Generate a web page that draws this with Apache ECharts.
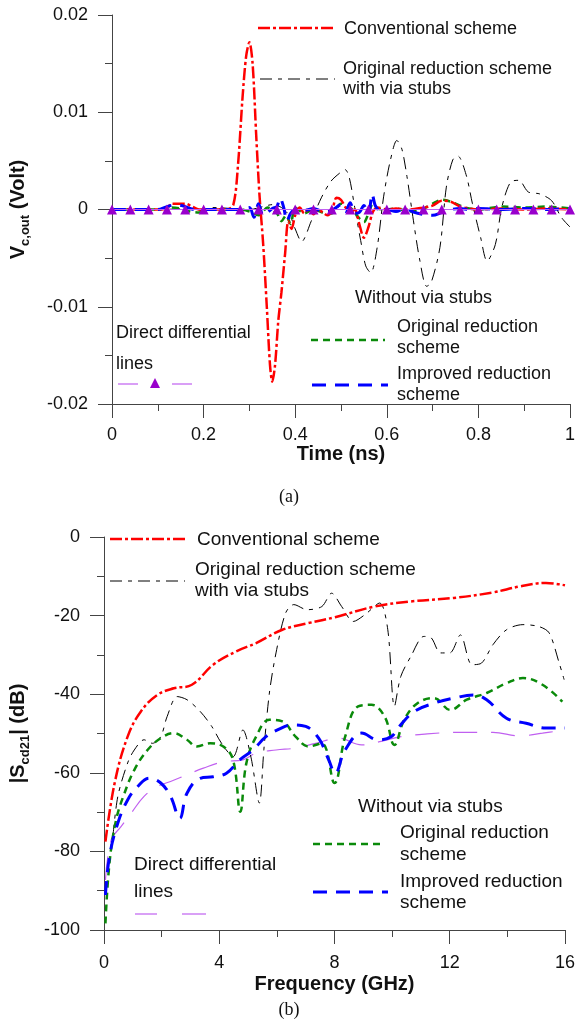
<!DOCTYPE html>
<html>
<head>
<meta charset="utf-8">
<script src="https://cdn.jsdelivr.net/npm/echarts@6/dist/echarts.min.js"></script>
<style>
html,body{margin:0;padding:0;background:#fff;}
#chart{width:578px;height:1027px;}
</style>
</head>
<body>
<div id="chart"></div>
<script>
// ---------- (a) time domain ----------
var timeTicks = [0, 0.2, 0.4, 0.6, 0.8, 1];
var convT = [0,0.05,0.10,0.12,0.13,0.16,0.175,0.19,0.25,0.265,0.275,0.285,0.293,0.300,0.307,0.315,0.322,0.330,0.338,0.345,0.350,0.356,0.363,0.370,0.378,0.385,0.392,0.40,0.41,0.42,0.43,0.44,0.45,0.46,0.47,0.48,0.49,0.50,0.51,0.52,0.53,0.54,0.55,0.56,0.57,0.58,0.60,0.62,0.65,0.68,0.70,0.72,0.74,0.76,0.78,0.80,0.85,0.90,0.95,1.0];
var convV = [0,0,0,0.0001,0.0006,0.0006,0.0003,0,0,0.0005,0.0045,0.0115,0.0158,0.0172,0.0150,0.0075,0.0015,-0.0035,-0.0100,-0.0160,-0.0177,-0.0160,-0.0115,-0.0085,-0.0045,-0.0012,-0.0020,-0.0006,0.0002,-0.0004,0.0001,-0.0005,0.0000,-0.0003,-0.0006,-0.0002,0.0012,0.0010,0.0002,-0.0003,0.0000,-0.0015,-0.0029,-0.0018,-0.0002,0.0002,0.0000,0.0001,0.0000,0.0002,0.0004,0.0009,0.0008,0.0003,0.0001,0.0000,0.0001,0.0000,0.0001,0.0000];
var stubT = [0,0.1,0.18,0.2,0.22,0.3,0.33,0.35,0.37,0.39,0.40,0.414,0.435,0.457,0.478,0.496,0.509,0.518,0.53,0.543,0.554,0.565,0.579,0.593,0.608,0.622,0.633,0.644,0.658,0.672,0.687,0.697,0.716,0.73,0.744,0.755,0.773,0.787,0.805,0.819,0.837,0.851,0.87,0.888,0.909,0.934,0.96,0.981,1.0];
var stubV = [0,0,0.0001,-0.0002,0.0002,0,0.0003,0.0005,0.0002,-0.0008,-0.0020,-0.0033,-0.0012,0.0012,0.0029,0.0037,0.0041,0.0033,0.0002,-0.0032,-0.0058,-0.0065,-0.0039,0.0013,0.0051,0.0071,0.0062,0.0034,-0.0011,-0.0052,-0.0079,-0.0075,-0.0039,0.0023,0.0051,0.0055,0.0036,0.0006,-0.0029,-0.0053,-0.0036,0.0002,0.0028,0.0030,0.0018,0.0016,0.0009,-0.0008,-0.0018];
var origT = [0,0.1,0.13,0.15,0.17,0.19,0.21,0.25,0.28,0.30,0.32,0.34,0.36,0.37,0.38,0.39,0.40,0.42,0.44,0.46,0.48,0.50,0.52,0.54,0.55,0.56,0.57,0.58,0.60,0.62,0.65,0.68,0.70,0.72,0.74,0.76,0.78,0.80,0.85,0.90,0.95,1.0];
var origV = [0,0,0.0002,0.0001,-0.0002,-0.0003,0,0,0,-0.0002,-0.0006,0.0002,-0.0004,-0.0012,-0.0006,-0.0015,0.0002,-0.0004,0.0000,-0.0003,-0.0004,0.0006,0.0002,-0.0009,-0.0013,-0.0004,0.0006,0.0001,0.0000,0.0001,-0.0002,0.0001,0.0006,0.0010,0.0008,0.0004,0.0001,0.0000,0.0003,0.0002,0.0003,0.0001];
var imprT = [0,0.1,0.12,0.14,0.16,0.18,0.20,0.25,0.28,0.30,0.31,0.32,0.33,0.34,0.35,0.36,0.367,0.375,0.382,0.39,0.40,0.42,0.44,0.46,0.48,0.50,0.51,0.52,0.53,0.54,0.55,0.56,0.568,0.575,0.585,0.60,0.62,0.64,0.66,0.68,0.70,0.72,0.74,0.76,0.78,0.80,0.85,0.90,0.95,1.0];
var imprV = [0,0,0.0003,0.0005,0.0003,0.0000,0,0,0,0.0002,-0.0008,0.0006,-0.0006,-0.0003,0.0001,0.0003,0.0012,0.0002,-0.0012,-0.0004,0.0000,-0.0001,0.0001,-0.0002,-0.0001,0.0005,-0.0002,0.0007,-0.0004,-0.0003,0.0004,-0.0005,0.0016,0.0004,-0.0001,0.0000,-0.0002,0.0001,-0.0003,-0.0005,-0.0006,-0.0003,0.0000,0.0001,0.0000,0.0001,0.0000,0.0001,0.0000,0.0001];
var directT = [0,0.04,0.08,0.12,0.16,0.20,0.24,0.28,0.32,0.36,0.40,0.44,0.48,0.52,0.56,0.60,0.64,0.68,0.72,0.76,0.80,0.84,0.88,0.92,0.96,1.00];
var directV = [0,0,0,0,0,0,0,0,0,0,0,0,0,0,0,0,0,0,0,0,0,0,0,0,0,0];

// ---------- (b) frequency domain ----------
var freqTicks = [0, 4, 8, 12, 16];
var convF = [0.05,0.37,0.82,1.28,1.85,2.42,3.05,3.79,4.59,5.28,6.19,7.1,8.02,9.39,10.65,12.14,13.5,14.42,15.34,16.0];
var convS = [-77.5,-62.6,-50.8,-44.4,-40.2,-38.5,-37.6,-32.5,-29.1,-27.0,-23.6,-21.9,-20.4,-17.7,-16.4,-15.5,-14.1,-12.6,-11.7,-12.3];
var stubF = [0.31,0.48,0.82,1.05,1.39,1.68,1.97,2.19,2.54,2.88,3.34,3.74,4.08,4.48,4.82,5.1,5.39,5.55,5.74,5.97,6.3,6.59,7.05,7.56,7.9,8.25,8.65,9.05,9.57,9.85,10.08,10.3,10.65,11.1,11.35,11.68,12.0,12.37,12.77,13.1,13.5,13.97,14.54,15.1,15.45,15.8,15.97];
var stubS = [-76.2,-66,-57.5,-54.2,-51.6,-52.5,-50.8,-45.7,-40.6,-41.4,-44.4,-48.2,-52.5,-55.9,-49.1,-56,-67.7,-54,-39.7,-29.5,-19.4,-17.2,-18.5,-17.7,-14.3,-17.7,-21.5,-19.8,-16.8,-23.6,-43.1,-35.5,-30.4,-25.3,-25.6,-29.5,-29.5,-24.9,-32.5,-32.1,-27.4,-23.6,-22.3,-22.8,-24.4,-32.1,-36.3];
var origF = [0.05,0.19,0.42,0.71,1.05,1.51,1.97,2.42,2.88,3.22,3.68,4.14,4.48,4.73,4.94,5.28,5.74,6.19,6.65,7.1,7.56,8.0,8.37,8.82,9.28,9.74,10.08,10.42,10.88,11.45,12.02,12.59,13.28,13.97,14.54,15.22,15.91];
var origS = [-98.3,-83,-72,-65.2,-59.3,-54.2,-51.2,-49.9,-51.6,-53.3,-52.5,-53.3,-56.7,-69.9,-57.6,-50.8,-46.5,-46.9,-50.8,-53.3,-52.5,-62.6,-50.8,-43.1,-42.7,-45.7,-52.9,-46.5,-42.3,-41,-44,-41.4,-39.7,-37.2,-35.9,-37.6,-41.9];
var imprF = [0.05,0.19,0.48,0.82,1.17,1.57,1.97,2.31,2.63,2.88,3.34,3.79,4.25,4.71,5.17,5.62,6.02,6.54,7.0,7.45,7.8,8.02,8.37,8.94,9.51,9.97,10.25,10.77,11.45,12.14,12.82,13.28,13.97,14.65,15.34,16.0];
var imprS = [-91.1,-81.3,-72.8,-66.9,-63.5,-61.4,-62.6,-66,-71.6,-65.2,-61.4,-61,-60.1,-56.7,-54.2,-50.8,-49.1,-47.8,-48.2,-51.2,-56.7,-60.1,-54.2,-49.9,-51.6,-50.8,-48.2,-44.4,-42.3,-41,-40.2,-41.4,-46.1,-47.4,-48.6,-48.6];
var directF = [0.05,0.25,0.59,0.94,1.39,1.85,2.31,2.88,3.45,4.14,4.82,5.28,5.97,6.65,7.34,8.14,8.94,9.62,10.31,11.22,12.37,13.5,14.42,15.22,16.0];
var directS = [-87.3,-77.1,-73.7,-70.3,-66,-63.5,-62.2,-60.5,-58.8,-57.2,-56.7,-55,-54.2,-53.7,-52.5,-51.2,-52.9,-52,-50.8,-50.1,-49.7,-49.7,-50.6,-49.9,-49.1];

function zip(a, b) { return a.map(function (v, i) { return [v, b[i]]; }); }

var FONT = 'Liberation Sans, Arial, sans-serif';
var AX = '#444';
var RED = '#ff0000', BLACK = '#000000', GREEN = '#0a8a0a', BLUE = '#0000ff', PURPLE_L = '#c060f0', PURPLE_D = '#9900cc';
var sRed = { color: RED, width: 2.5, type: [12, 3, 3, 3] };
var sBlack = { color: BLACK, width: 1, type: [12, 6, 4, 6] };
var sGreen = { color: GREEN, width: 2.5, type: [7, 5] };
var sBlue = { color: BLUE, width: 3, type: [14, 9] };
var sPurpleA = { color: PURPLE_L, width: 1.2, type: 'solid' };
var sPurpleB = { color: PURPLE_L, width: 1.2, type: [24, 14] };

function axisCommon(extra) {
  var o = {
    axisLine: { show: true, onZero: false, lineStyle: { color: AX, width: 1 } },
    axisTick: { show: true, length: 14, lineStyle: { color: AX } },
    minorTick: { show: true, splitNumber: 2, length: 7, lineStyle: { color: AX } },
    splitLine: { show: false },
    axisLabel: { color: '#111', fontSize: 18, fontFamily: FONT },
    nameTextStyle: { color: '#111', fontSize: 20, fontWeight: 'bold', fontFamily: FONT }
  };
  for (var k in extra) o[k] = extra[k];
  return o;
}

function line(x1, y1, x2, y2, st) {
  return { type: 'line', shape: { x1: x1, y1: y1, x2: x2, y2: y2 },
    style: { stroke: st.color, lineWidth: st.width, lineDash: st.type === 'solid' ? null : st.type }, z: 100 };
}
function txt(x, y, s, size) {
  return { type: 'text', x: x, y: y, style: { text: s, fill: '#111', font: (size || 18) + 'px ' + FONT, verticalAlign: 'middle', align: 'left' }, z: 100 };
}
function caption(x, y, s) {
  return { type: 'text', x: x, y: y, style: { text: s, fill: '#111', font: '18px Liberation Serif, Times New Roman, serif', verticalAlign: 'middle', align: 'center' }, z: 100 };
}

var richName = {
  b: { fontSize: 20, fontWeight: 'bold', fontFamily: FONT, color: '#111', lineHeight: 28 },
  s: { fontSize: 13, fontWeight: 'bold', fontFamily: FONT, color: '#111', lineHeight: 14, verticalAlign: 'bottom' }
};

var option = {
  backgroundColor: '#fff',
  animation: false,
  grid: [
    { left: 108, top: 15, width: 464, height: 389 },
    { left: 101, top: 537, width: 469, height: 393 }
  ],
  xAxis: [
    axisCommon({ gridIndex: 0, type: 'value', min: 0, max: 1, interval: 0.2,
      name: 'Time (ns)', nameLocation: 'middle', nameGap: 38,
      axisLabel: { color: '#111', fontSize: 18, fontFamily: FONT, margin: 22 } }),
    axisCommon({ gridIndex: 1, type: 'value', min: 0, max: 16, interval: 4,
      name: 'Frequency (GHz)', nameLocation: 'middle', nameGap: 44,
      axisLabel: { color: '#111', fontSize: 18, fontFamily: FONT, margin: 24 } })
  ],
  yAxis: [
    axisCommon({ gridIndex: 0, type: 'value', min: -0.02, max: 0.02, interval: 0.01,
      name: '{b|V}{s|c,out}{b| (Volt)}', nameLocation: 'middle', nameGap: 80, nameRotate: 90,
      nameTextStyle: { rich: richName },
      axisLabel: { color: '#111', fontSize: 18, fontFamily: FONT, margin: 24 } }),
    axisCommon({ gridIndex: 1, type: 'value', min: -100, max: 0, interval: 20,
      name: '{b||S}{s|cd21}{b|| (dB)}', nameLocation: 'middle', nameGap: 72, nameRotate: 90,
      nameTextStyle: { rich: richName },
      axisLabel: { color: '#111', fontSize: 18, fontFamily: FONT, margin: 24 } })
  ],
  series: [
    { type: 'line', xAxisIndex: 0, yAxisIndex: 0, data: zip(stubT, stubV), showSymbol: false, smooth: 0.3, lineStyle: sBlack, z: 2 },
    { type: 'line', xAxisIndex: 0, yAxisIndex: 0, data: zip(origT, origV), showSymbol: false, smooth: 0.3, lineStyle: sGreen, z: 3 },
    { type: 'line', xAxisIndex: 0, yAxisIndex: 0, data: zip(convT, convV), showSymbol: false, smooth: 0.3, lineStyle: sRed, z: 4 },
    { type: 'line', xAxisIndex: 0, yAxisIndex: 0, data: zip(imprT, imprV), showSymbol: false, smooth: 0.3, lineStyle: sBlue, z: 5 },
    { type: 'line', xAxisIndex: 0, yAxisIndex: 0, data: zip(directT, directV), showSymbol: true, symbol: 'triangle', symbolSize: 10,
      itemStyle: { color: PURPLE_D }, lineStyle: sPurpleA, z: 6 },

    { type: 'line', xAxisIndex: 1, yAxisIndex: 1, data: zip(directF, directS), showSymbol: false, smooth: 0.4, lineStyle: sPurpleB, z: 2 },
    { type: 'line', xAxisIndex: 1, yAxisIndex: 1, data: zip(stubF, stubS), showSymbol: false, smooth: 0.3, lineStyle: sBlack, z: 3 },
    { type: 'line', xAxisIndex: 1, yAxisIndex: 1, data: zip(origF, origS), showSymbol: false, smooth: 0.4, lineStyle: sGreen, z: 4 },
    { type: 'line', xAxisIndex: 1, yAxisIndex: 1, data: zip(imprF, imprS), showSymbol: false, smooth: 0.4, lineStyle: sBlue, z: 5 },
    { type: 'line', xAxisIndex: 1, yAxisIndex: 1, data: zip(convF, convS), showSymbol: false, smooth: 0.4, lineStyle: sRed, z: 6 }
  ],
  graphic: [
    // legend (a)
    line(258, 28, 335, 28, sRed), txt(344, 29, 'Conventional scheme'),
    line(260, 79, 335, 79, sBlack), txt(343, 69, 'Original reduction scheme'), txt(343, 89, 'with via stubs'),
    txt(355, 298, 'Without via stubs'),
    line(311, 340, 385, 340, sGreen), txt(397, 327, 'Original reduction'), txt(397, 348, 'scheme'),
    line(312, 385, 388, 385, sBlue), txt(397, 374, 'Improved reduction'), txt(397, 395, 'scheme'),
    txt(116, 333, 'Direct differential'), txt(116, 364, 'lines'),
    line(118, 384, 138, 384, sPurpleA), line(172, 384, 192, 384, sPurpleA),
    { type: 'polygon', shape: { points: [[155, 378], [150, 388], [160, 388]] }, style: { fill: PURPLE_D }, z: 100 },
    caption(289, 497, '(a)'),
    // legend (b)
    line(110, 539, 185, 539, sRed), txt(197, 540, 'Conventional scheme', 19),
    line(110, 581, 185, 581, sBlack), txt(195, 570, 'Original reduction scheme', 19), txt(195, 591, 'with via stubs', 19),
    txt(358, 807, 'Without via stubs', 19),
    line(313, 844, 385, 844, sGreen), txt(400, 833, 'Original reduction', 19), txt(400, 855, 'scheme', 19),
    line(313, 892, 388, 892, sBlue), txt(400, 882, 'Improved reduction', 19), txt(400, 903, 'scheme', 19),
    txt(134, 865, 'Direct differential', 19), txt(134, 892, 'lines', 19),
    line(135, 914, 157, 914, sPurpleB), line(182, 914, 207, 914, sPurpleB),
    caption(289, 1010, '(b)')
  ]
};

var chart = echarts.init(document.getElementById('chart'), null, { renderer: 'canvas' });
chart.setOption(option);
</script>
</body>
</html>
